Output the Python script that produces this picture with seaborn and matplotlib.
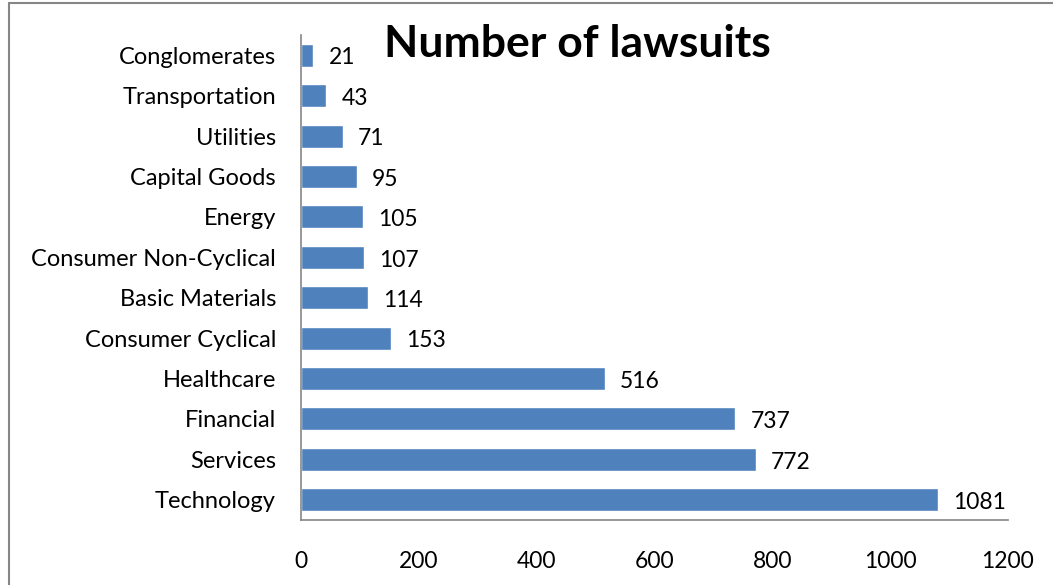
import matplotlib
matplotlib.use("Agg")
import matplotlib.pyplot as plt
import seaborn as sns
import pandas as pd

# data, top to bottom as in the chart
categories = ["Conglomerates", "Transportation", "Utilities", "Capital Goods", "Energy",
              "Consumer Non-Cyclical", "Basic Materials", "Consumer Cyclical",
              "Healthcare", "Financial", "Services", "Technology"]
lawsuits = [21, 43, 71, 95, 105, 107, 114, 153, 516, 737, 772, 1081]
x_ticks = [0, 200, 400, 600, 800, 1000, 1200]

df = pd.DataFrame({"sector": categories, "count": lawsuits})

sns.set_style("white")
plt.rcParams["font.family"] = ["Lato", "DejaVu Sans"]
plt.rcParams["text.color"] = "black"
plt.rcParams["xtick.color"] = "black"
plt.rcParams["ytick.color"] = "black"

fig = plt.figure(figsize=(10.53, 5.85), dpi=100)
ax = fig.add_axes([0.2858, 0.1111, 0.957 - 0.2858, 0.9402 - 0.1111])

sns.barplot(data=df, x="count", y="sector", color="#4F81BD", saturation=1,
            width=0.57, orient="h", ax=ax)

for i, v in enumerate(lawsuits):
    ax.annotate(str(v), (v, i), xytext=(11, -2), textcoords="offset points",
                va="center", ha="left", fontsize=16.5, color="black")

ax.set_xlim(0, 1200)
ax.set_xticks(x_ticks)
ax.set_xticklabels([str(t) for t in x_ticks])
ax.set_xlabel("")
ax.set_ylabel("")
ax.tick_params(axis="x", length=0, pad=22, labelsize=16.5, labelcolor="black")
ax.tick_params(axis="y", length=0, pad=18, labelsize=17, labelcolor="black")
for s in ["top", "right"]:
    ax.spines[s].set_visible(False)
for s in ["left", "bottom"]:
    ax.spines[s].set_color("#868686")
    ax.spines[s].set_linewidth(1.2)

fig.text(0.548, 0.925, "Number of lawsuits", ha="center", va="center",
         fontsize=32, fontweight="bold", color="black")

# outer chart border (left and top visible in the crop)
fig.add_artist(plt.Line2D([0.0085, 0.0085], [0, 0.995], transform=fig.transFigure,
                          color="#868686", lw=1.5))
fig.add_artist(plt.Line2D([0.0085, 1], [0.995, 0.995], transform=fig.transFigure,
                          color="#868686", lw=1.5))

fig.savefig("out.png", dpi=100)
